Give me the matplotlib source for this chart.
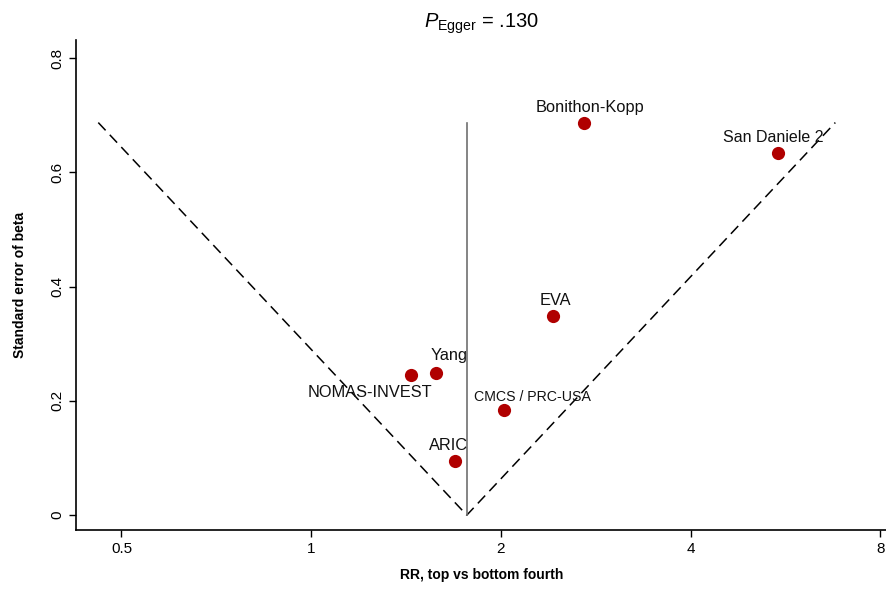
import numpy as np
import matplotlib
matplotlib.use("Agg")
import matplotlib.pyplot as plt
from matplotlib.ticker import FixedLocator, FixedFormatter, NullLocator

plt.rcParams['font.family'] = ['Liberation Sans', 'DejaVu Sans']
plt.rcParams['mathtext.fontset'] = 'custom'
plt.rcParams['mathtext.rm'] = 'Liberation Sans'
plt.rcParams['mathtext.it'] = 'Liberation Sans:italic'

# study estimates
studies = ['Bonithon-Kopp', 'San Daniele 2', 'EVA', 'Yang', 'NOMAS-INVEST',
           'CMCS / PRC-USA', 'ARIC']
rr = [2.71, 5.51, 2.42, 1.58, 1.44, 2.02, 1.69]
se = [0.687, 0.634, 0.348, 0.249, 0.245, 0.184, 0.095]
# label offsets (pixels) from each point, and label font sizes
label_dx = [6, -5, 2, 13, -41, 29, -6]
label_dy = [15, 15, 16, 17, -17, 13, 15]
label_size = [11.8, 11.5, 11.8, 11.8, 11.8, 10.2, 11.8]

pooled_rr = 1.766
se_max = 0.687

xticks = [0.5, 1, 2, 4, 8]
xticklabels = ['0.5', '1', '2', '4', '8']
yticks = [0, 0.2, 0.4, 0.6, 0.8]
yticklabels = ['0', '0.2', '0.4', '0.6', '0.8']

fig = plt.figure(figsize=(8.87, 5.95), dpi=100)
ax = fig.add_axes([76/887, 65/595, 1 - 76/887, 490/595])

# funnel
lo = np.exp(np.log(pooled_rr) - 1.96 * se_max)
hi = np.exp(np.log(pooled_rr) + 1.96 * se_max)
ax.plot([lo, pooled_rr, hi], [se_max, 0, se_max], color='black', lw=1.1,
        dashes=(7, 4))
ax.plot([pooled_rr, pooled_rr], [0, se_max], color='#707070', lw=1.2)

ax.plot(rr, se, 'o', color='#B00000', markersize=9.5, markeredgewidth=0)
for name, x, y, dx, dy, fs in zip(studies, rr, se, label_dx, label_dy, label_size):
    ax.annotate(name, (x, y), xytext=(dx, dy), textcoords='offset pixels',
                ha='center', va='center', fontsize=fs, color='#111111')

ax.set_xscale('log', base=2)
ax.set_xlim(0.4235, 8.2)
ax.set_ylim(-0.026, 0.8315)
ax.xaxis.set_major_locator(FixedLocator(xticks))
ax.xaxis.set_major_formatter(FixedFormatter(xticklabels))
ax.xaxis.set_minor_locator(NullLocator())
ax.set_yticks(yticks)
ax.set_yticklabels(yticklabels, rotation=90, va='center')
ax.tick_params(labelsize=11, length=5, width=1, color='black')

for s in ['top', 'right']:
    ax.spines[s].set_visible(False)
for s in ['left', 'bottom']:
    ax.spines[s].set_linewidth(1.2)

ax.set_xlabel('RR, top vs bottom fourth', fontsize=10, fontweight='bold',
              labelpad=9)
ax.set_ylabel('Standard error of beta', fontsize=10, fontweight='bold',
              labelpad=17)
ax.set_title(r'$P_{\mathrm{Egger}}$ = .130', fontsize=14.5, pad=9)

fig.savefig('out.png', dpi=100)
